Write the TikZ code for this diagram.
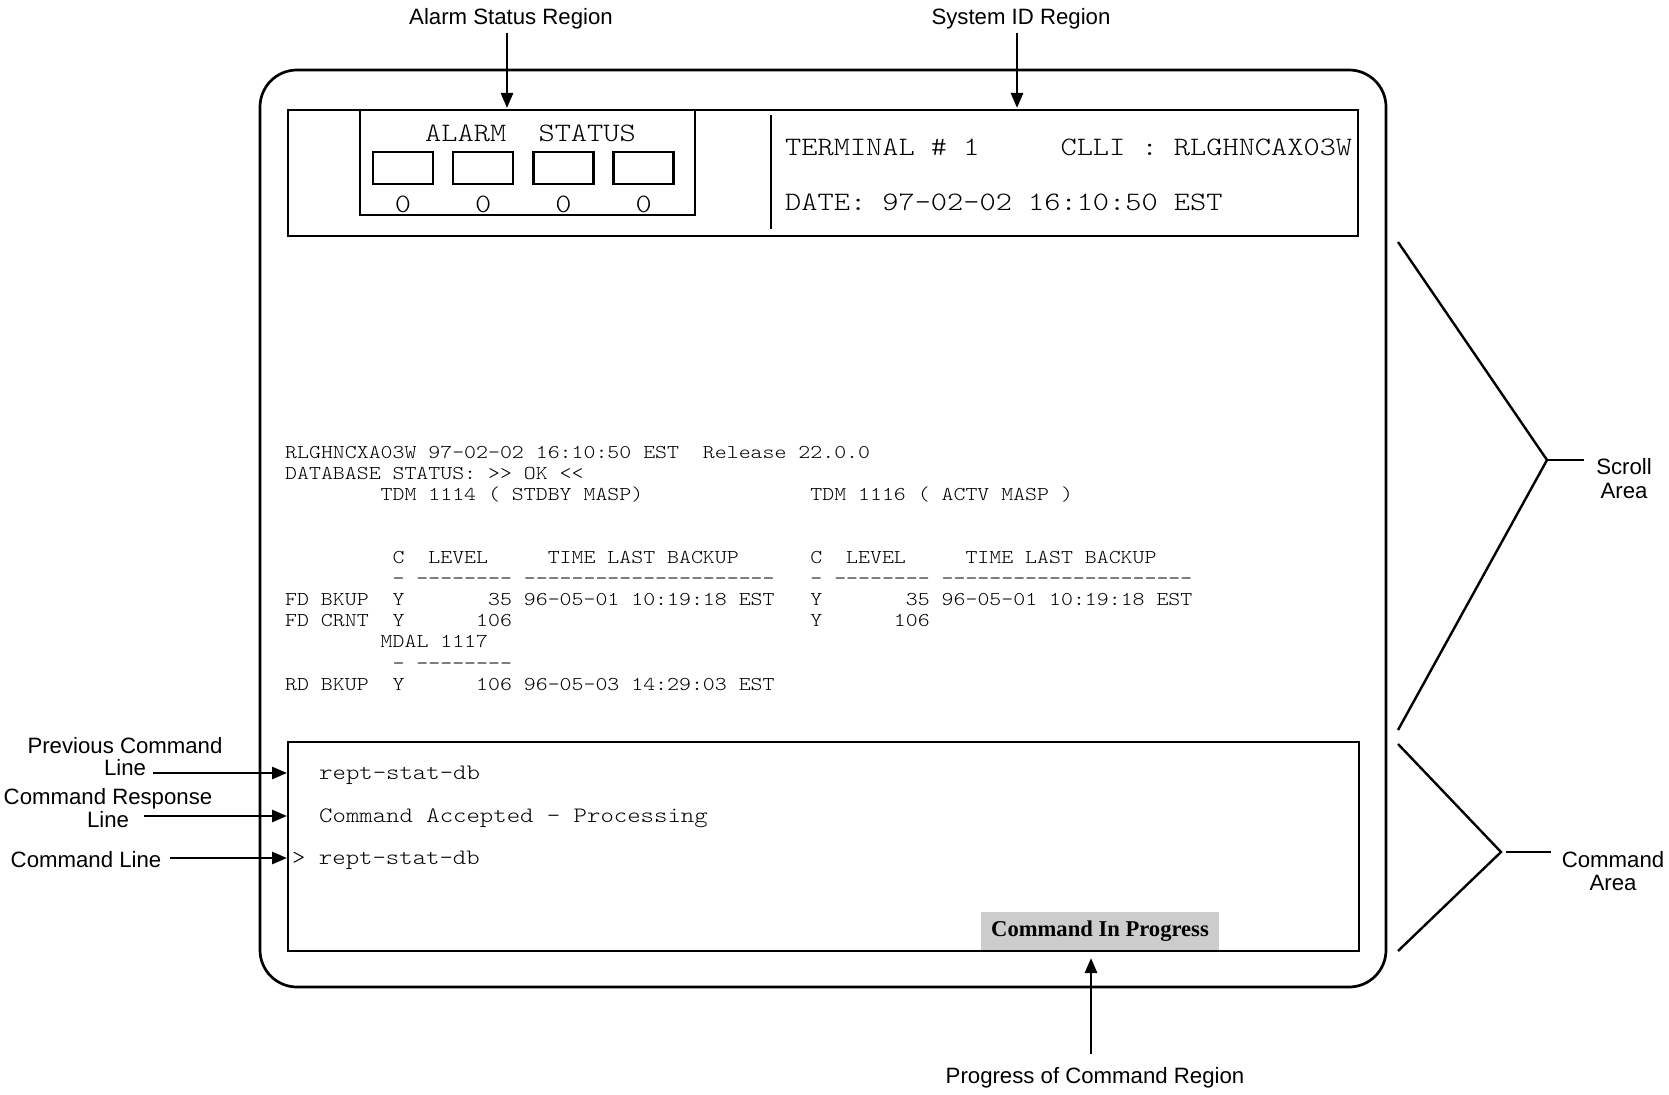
\documentclass[tikz,border=0pt]{standalone}
\usepackage{fontspec}
\setmainfont{Liberation Sans}
\setmonofont{lmmonolt10-regular.otf}[FakeStretch=1.16]
\newfontfamily\bannerfont{Liberation Serif}
\usetikzlibrary{arrows.meta,positioning}
\frenchspacing

\newcommand\colsp[1]{\hskip#1\fontcharwd\font`0\relax}
\def\scrollx{285}

\tikzstyle{frame} = [rectangle,
draw=black,
line width=2.7pt,
inner sep=0pt,
outer sep=0pt]
\tikzstyle{lamp} = [rectangle,
draw=black,
line width=2.3pt,
minimum width=60pt,
minimum height=32pt,
inner sep=0pt]
\tikzstyle{hdrtext} = [font=\ttfamily\fontsize{26.6}{27}\selectfont, inner sep=0pt, anchor=base west]
\tikzstyle{scrolltext} = [font=\ttfamily\fontsize{19.6}{21}\selectfont, inner sep=0pt, anchor=base west]
\tikzstyle{cmdtext} = [font=\ttfamily\fontsize{22}{22}\selectfont, inner sep=0pt, anchor=base west]
\tikzstyle{callout} = [font=\fontsize{22.2}{22}\selectfont, inner sep=3pt, anchor=base]
\tikzstyle{arr} = [line width=2.7pt, -{Triangle[length=15pt,width=12pt]}]
\tikzstyle{brace} = [line width=2.4pt]

\begin{document}
\begin{tikzpicture}[x=1pt,y=-1pt]
    \useasboundingbox (0,0) rectangle (1669,1094);
    \node (screen) [frame, rounded corners=37pt, minimum width=1126pt, minimum height=917pt] at (823,528.5) {};
    %%%%%%%%%%%%%%%%%%%%%%%%%%%%%%%%%%%%%%%%
    % Header
    %%%%%%%%%%%%%%%%%%%%%%%%%%%%%%%%%%%%%%%%
    \node (header) [frame, minimum width=1070pt, minimum height=126pt] at (823,173) {};
    \node (alarmbox) [frame, minimum width=335pt, minimum height=105pt] at (527.5,162.5) {};
    \draw[line width=2.3pt] (771,115) -- (771,229);
    \node (alarmtxt) [hdrtext] at (425,142) {ALARM\colsp{2}STATUS};
    \foreach \i in {0,...,3} {
        \node (lamp\i) [lamp] at (403+80.2*\i,168) {};
        \node (cnt\i) [hdrtext, anchor=base] at (403+80.2*\i,212) {0};
    }
    \node (term) [hdrtext] at (785,156) {TERMINAL \# 1\colsp{5}CLLI : RLGHNCAX03W};
    \node (date) [hdrtext] at (785,211) {DATE: 97-02-02 16:10:50 EST};
    %%%%%%%%%%%%%%%%%%%%%%%%%%%%%%%%%%%%%%%%
    % Scroll area
    %%%%%%%%%%%%%%%%%%%%%%%%%%%%%%%%%%%%%%%%
    \node (rel) [scrolltext] at (\scrollx,458) {RLGHNCXA03W 97-02-02 16:10:50 EST\colsp{2}Release 22.0.0};
    \node (dbstat) [scrolltext] at (\scrollx,479.1) {DATABASE STATUS: >> OK <<};
    \node (tdm) [scrolltext] at (\scrollx,500.2) {\colsp{8}TDM 1114 ( STDBY MASP)\colsp{14}TDM 1116 ( ACTV MASP )};
    \node (colhead) [scrolltext] at (\scrollx,563.5) {\colsp{9}C\colsp{2}LEVEL\colsp{5}TIME LAST BACKUP\colsp{6}C\colsp{2}LEVEL\colsp{5}TIME LAST BACKUP};
    \node (coldash) [scrolltext] at (\scrollx,584.6) {\colsp{9}- -------- ---------------------\colsp{3}- -------- ---------------------};
    \node (fdbkup) [scrolltext] at (\scrollx,605.7) {FD BKUP\colsp{2}Y\colsp{7}35 96-05-01 10:19:18 EST\colsp{3}Y\colsp{7}35 96-05-01 10:19:18 EST};
    \node (fdcrnt) [scrolltext] at (\scrollx,626.8) {FD CRNT\colsp{2}Y\colsp{6}106\colsp{25}Y\colsp{6}106};
    \node (mdal) [scrolltext] at (\scrollx,647.9) {\colsp{8}MDAL 1117};
    \node (mdaldash) [scrolltext] at (\scrollx,669) {\colsp{9}- --------};
    \node (rdbkup) [scrolltext] at (\scrollx,690.1) {RD BKUP\colsp{2}Y\colsp{6}106 96-05-03 14:29:03 EST};
    %%%%%%%%%%%%%%%%%%%%%%%%%%%%%%%%%%%%%%%%
    % Command area
    %%%%%%%%%%%%%%%%%%%%%%%%%%%%%%%%%%%%%%%%
    \node (inprog) [fill=black!20, minimum width=238pt, minimum height=39pt, inner sep=0pt, font=\bannerfont\bfseries\fontsize{22.6}{22}\selectfont] at (1100,931.5) {Command In Progress};
    \node (cmdbox) [frame, minimum width=1071pt, minimum height=209pt] at (823.5,846.5) {};
    \node (prevcmd) [cmdtext] at (319,779) {rept-stat-db};
    \node (resp) [cmdtext] at (319,822) {Command Accepted - Processing};
    \node (cmdline) [cmdtext] at (292,864) {> rept-stat-db};
    %%%%%%%%%%%%%%%%%%%%%%%%%%%%%%%%%%%%%%%%
    % Callouts
    %%%%%%%%%%%%%%%%%%%%%%%%%%%%%%%%%%%%%%%%
    \node (alarmlbl) [callout] at (511,25) {Alarm Status Region};
    \node (sysidlbl) [callout] at (1021,25) {System ID Region};
    \coordinate (alarmin) at (507,108);
    \coordinate (sysidin) at (1017,108);
    \draw[arr] (alarmin |- alarmlbl.south) -- (alarmin);
    \draw[arr] (sysidin |- sysidlbl.south) -- (sysidin);
    \node (prevlbl) [callout] at (125,753) {Previous Command};
    \node (prevline) [callout] at (125,775) {Line};
    \node (resplbl) [callout] at (108,804) {Command Response};
    \node (respline) [callout] at (108,827) {Line};
    \node (cmdlbl) [callout] at (86,867) {Command Line};
    \coordinate (previn) at (287,773);
    \coordinate (respin) at (287,816);
    \coordinate (cmdin) at (287,858);
    \draw[arr, shorten <=4pt] (prevline.east |- previn) -- (previn);
    \draw[arr, shorten <=12pt] (respline.east |- respin) -- (respin);
    \draw[arr, shorten <=6pt] (cmdlbl.east |- cmdin) -- (cmdin);
    \node (scrolllbl) [callout] at (1624,474) {Scroll};
    \node (scrollarea) [callout] at (1624,498) {Area};
    \node (cmdarealbl) [callout] at (1613,867) {Command};
    \node (cmdarea) [callout] at (1613,890) {Area};
    \draw[brace] (1398,242) -- (1547,460) -- (1398,730);
    \draw[brace] (1547,460) -- (1584,460);
    \draw[brace] (1398,744) -- (1501,852) -- (1398,951);
    \draw[brace] (1506,852) -- (1551,852);
    \node (proglbl) [callout] at (1095,1083) {Progress of Command Region};
    \coordinate (progin) at (1091,958);
    \draw[arr, shorten <=10pt] (progin |- proglbl.north) -- (progin);
\end{tikzpicture}
\end{document}
